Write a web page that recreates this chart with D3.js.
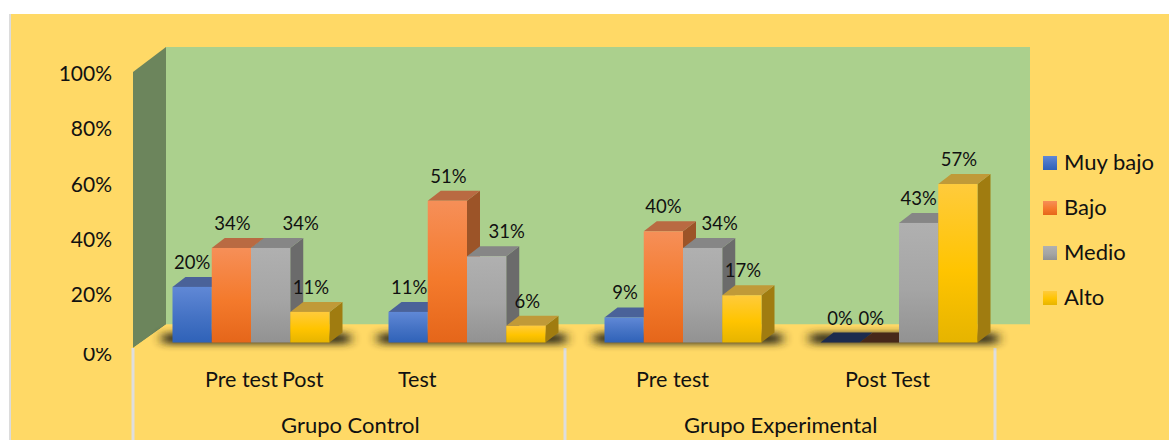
<!DOCTYPE html>
<html><head><meta charset="utf-8">
<script src="https://cdn.jsdelivr.net/npm/d3@7/dist/d3.min.js"></script>
<style>html,body{margin:0;padding:0;background:#fff;overflow:hidden}svg{display:block}text{font-family:Lato,"Open Sans",sans-serif;fill:#111}</style>
</head><body><svg id="c" width="1169" height="440"></svg>
<script>
const periodLabels = ["Pre test","Post","Test","Pre test","Post Test"];
const groupLabels = ["Grupo Control","Grupo Experimental"];
const seriesNames = ["Muy bajo","Bajo","Medio","Alto"];
const muyBajo = [20,11,9,0];
const bajo = [34,51,40,0];
const medio = [34,31,34,43];
const alto = [11,6,17,57];
const seriesValues = [muyBajo,bajo,medio,alto];
const axisTicks = [0,20,40,60,80,100];
const colorsTop = ["#6088d6","#f68f58","#b0b0b0","#ffcb3c"];
const colorsMid = ["#4472c4","#f47a2c","#a5a5a5","#ffc400"];
const colorsBot = ["#2f62b8","#e5661a","#929292","#e6b400"];
const topFace = ["#4a6299","#b96a42","#868686","#c09a38"];
const sideFace = ["#3b578f","#9c5428","#6b6b6b","#a07c10"];

const svg = d3.select("#c");
const defs = svg.append("defs");
seriesNames.forEach((s,i)=>{
  const g = defs.append("linearGradient").attr("id","g"+i).attr("x1",0).attr("x2",0).attr("y1",0).attr("y2",1);
  g.append("stop").attr("offset","0%").attr("stop-color",colorsTop[i]);
  g.append("stop").attr("offset","55%").attr("stop-color",colorsMid[i]);
  g.append("stop").attr("offset","100%").attr("stop-color",colorsBot[i]);
});
defs.append("filter").attr("id","blur").attr("x","-30%").attr("y","-400%").attr("width","160%").attr("height","900%")
  .append("feGaussianBlur").attr("stdDeviation","6 3.5");

// backdrop
svg.append("rect").attr("x",9).attr("y",14).attr("width",1160).attr("height",426).attr("fill","#ffd966");
svg.append("rect").attr("x",9).attr("y",14).attr("width",2).attr("height",426).attr("fill","#dcdcdc");

const y = d3.scaleLinear().domain([0,100]).range([342.5,64.5]);
const dx = 13, dy = 10;
const groupX = d3.scaleBand().domain(d3.range(4)).range([150.5,1014.5]);
const barX = d3.scaleBand().domain(d3.range(4)).range([22,179]);

// walls
const line = d3.line();
svg.append("path").attr("d",line([[166,47],[1030,47],[1030,324.5],[166,324.5]])+"Z").attr("fill","#abd08d");
svg.append("path").attr("d",line([[133,72],[166,47],[166,324.5],[133,348]])+"Z").attr("fill","#6c855c");

// axis
const axisY = d3.scaleLinear().domain([0,100]).range([350.25,74]);
const ax = svg.append("g").attr("transform","translate(120,0)")
  .call(d3.axisLeft(axisY).tickValues(axisTicks).tickFormat(d=>d+"%").tickSize(0).tickPadding(8));
ax.select(".domain").remove();
ax.selectAll("text").attr("font-size",21).style("font-family","Lato,'Open Sans',sans-serif").attr("fill","#111");
// the lowest tick label sits lower and has its top cut off, as in the source
ax.selectAll(".tick").filter(d=>d===0).select("text").attr("dy","0.5em");
svg.append("rect").attr("x",60).attr("y",335).attr("width",72).attr("height",13).attr("fill","#ffd966");
svg.append("path").attr("d",line([[133,348],[166,324.5],[1030,324.5],[997,348]])+"Z").attr("fill","#ffd966");

// separators
const sepX = [133,565,995];
svg.selectAll(".sep").data(sepX).join("rect").attr("class","sep").attr("x",d=>d-1.5).attr("y",348).attr("width",3).attr("height",92).attr("fill","#dedede");

// data-label placement nudges (px), per group and series
const labelNudge = [[0,1,30,1],[1,1,20,1.5],[1,0,17,1],[0,-8,0,1]];

// groups
seriesValues[0].forEach((_,gi)=>{
  const g = svg.append("g").attr("transform",`translate(${groupX(gi)},0)`);
  g.append("rect").attr("x",barX(0)-10).attr("y",333).attr("width",barX.step()*4+30).attr("height",11)
    .attr("fill","#2d2a14").attr("opacity",.95).attr("filter","url(#blur)");
  seriesValues.forEach((vals,si)=>{
    const v = vals[gi], x0 = barX(si), w = barX.bandwidth(), yt = y(v), yb = y(0);
    const b = g.append("g");
    if(v===0){
      b.append("path").attr("d",line([[x0,yb],[x0+dx,yb-dy],[x0+dx+w,yb-dy],[x0+w,yb]])+"Z")
       .attr("fill",si===0?"#1d2b4e":"#47281a");
      return;
    }
    b.append("path").attr("d",line([[x0+w,yt],[x0+w+dx,yt-dy],[x0+w+dx,yb-dy],[x0+w,yb]])+"Z").attr("fill",sideFace[si]);
    b.append("path").attr("d",line([[x0,yt],[x0+dx,yt-dy],[x0+w+dx,yt-dy],[x0+w,yt]])+"Z").attr("fill",topFace[si]);
    b.append("rect").attr("x",x0).attr("y",yt).attr("width",w).attr("height",yb-yt).attr("fill",`url(#g${si})`);
  });
  seriesValues.forEach((vals,si)=>{
    const v = vals[gi], x0 = barX(si), w = barX.bandwidth();
    g.append("text").attr("x",x0+w/2+labelNudge[gi][si]).attr("y",y(v)-18)
     .attr("text-anchor","middle").attr("font-size",18.5).text(v+"%");
  });
});

// category labels
const periodX = [205,282,398,636,845];
svg.selectAll(".per").data(periodLabels).join("text").attr("class","per")
  .attr("x",(d,i)=>periodX[i]).attr("y",386.5).attr("font-size",21.5).text(d=>d);
const groupTextX = [281,684];
svg.selectAll(".grp").data(groupLabels).join("text").attr("class","grp")
  .attr("x",(d,i)=>groupTextX[i]).attr("y",433).attr("font-size",22).text(d=>d);

// legend
const ly = d3.scalePoint().domain(seriesNames).range([163,298]);
const lg = svg.selectAll(".lg").data(seriesNames).join("g").attr("class","lg").attr("transform",d=>`translate(1043,${ly(d)})`);
lg.append("rect").attr("x",0).attr("y",-7).attr("width",14).attr("height",14).attr("fill",(d,i)=>`url(#g${i})`);
lg.append("text").attr("x",21).attr("y",7).attr("font-size",22).text(d=>d);
</script></body></html>
